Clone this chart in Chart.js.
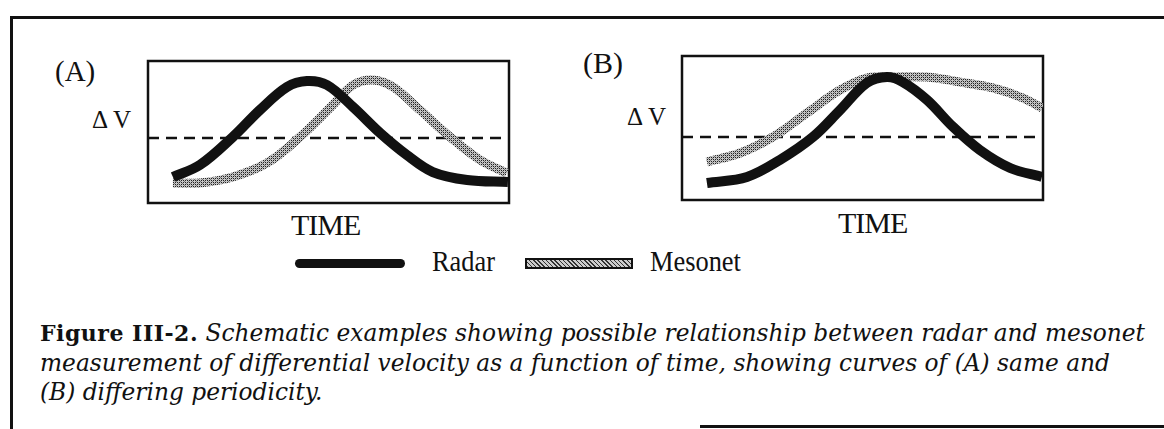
<!DOCTYPE html>
<html>
<head>
<meta charset="utf-8">
<script src="https://cdn.jsdelivr.net/npm/chart.js@4.4.1/dist/chart.umd.min.js"></script>
<style>
  body { margin: 0; background: #fff; width: 1164px; height: 429px; overflow: hidden; position: relative; font-family: "Liberation Serif", serif; color: #111; }
  .abs { position: absolute; white-space: nowrap; }
  #frame { position: absolute; left: 10px; top: 16px; width: 1170px; height: 420px; border-top: 3px solid #111; border-left: 3px solid #111; }
  #frameBottom { position: absolute; left: 700px; top: 425px; width: 470px; border-top: 3px solid #111; }
  canvas { position: absolute; }
  .dv { font-size: 25px; }
  .time { font-size: 30px; letter-spacing: -1px; }
  .leg { font-size: 30px; transform: scaleX(0.88); transform-origin: left; }
  .sym { position: absolute; height: 9px; }
  #caption { position: absolute; left: 40px; top: 318px; font-family: "DejaVu Serif", serif; font-style: italic; font-size: 23.3px; line-height: 29px; white-space: nowrap; }
  #caption b { font-style: normal; font-size: 22px; letter-spacing: 0.5px; }
</style>
</head>
<body>
<div id="frame"></div>
<div id="frameBottom"></div>

<div class="abs" style="left:55px; top:55px; font-size:29px;">(A)</div>
<div class="abs dv" style="left:92px; top:106px;">&Delta;&thinsp;V</div>
<canvas id="chartA" width="371" height="152" style="left:143px; top:56px;"></canvas>
<div class="abs time" style="left:291px; top:208px;">TIME</div>

<div class="abs" style="left:583px; top:46px; font-size:30px;">(B)</div>
<div class="abs dv" style="left:627px; top:103px;">&Delta;&thinsp;V</div>
<canvas id="chartB" width="371" height="154" style="left:677px; top:51px;"></canvas>
<div class="abs time" style="left:838px; top:206px;">TIME</div>

<div class="sym" style="left:295px; top:259px; width:110px; background:#111; border-radius:5px;"></div>
<div class="abs leg" style="left:432px; top:244px;">Radar</div>
<div class="sym" id="mesoSym" style="left:525px; top:258px; width:104px; height:7px; border:2px solid #111;"></div>
<div class="abs leg" style="left:650px; top:244px;">Mesonet</div>

<div id="caption">
  <div><b>Figure III-2.</b> Schematic examples showing possible relationship between radar and mesonet</div>
  <div>measurement of differential velocity as a function of time, showing curves of (A) same and</div>
  <div>(B) differing periodicity.</div>
</div>

<script>
// panel A (time in % of box width, delta V in % of box height)
const radarATime = [6.9, 14.4, 23.5, 31.0, 38.5, 44.0, 49.6, 56.8, 64.3, 71.7, 78.9, 88.4, 99.7];
const radarAValues = [18.3, 26.8, 46.5, 65.5, 81.7, 85.9, 83.1, 67.6, 49.3, 33.8, 21.8, 16.2, 14.8];
const mesonetATime = [6.9, 14.4, 23.5, 33.0, 42.1, 51.2, 56.8, 62.3, 67.9, 75.3, 83.7, 92.0, 99.4];
const mesonetAValues = [14.1, 14.1, 18.3, 28.2, 46.5, 69.0, 83.1, 86.6, 81.7, 65.5, 46.5, 30.3, 21.1];
const thresholdA = 45.8;

// panel B
const radarBTime = [6.9, 18.0, 27.1, 36.3, 43.8, 51.2, 56.8, 61.2, 67.9, 75.1, 82.5, 90.9, 99.7];
const radarBValues = [11.8, 16.0, 27.8, 43.8, 62.5, 81.3, 85.4, 81.9, 69.4, 50.7, 34.7, 22.2, 16.0];
const mesonetBTime = [6.9, 16.1, 25.2, 34.6, 43.8, 51.2, 58.4, 67.9, 77.0, 86.1, 94.5, 99.7];
const mesonetBValues = [26.4, 32.6, 43.8, 60.4, 76.4, 84.7, 85.4, 85.4, 81.9, 77.8, 70.8, 63.9];
const thresholdB = 43.75;

function stipple() {
  const c = document.createElement('canvas');
  c.width = 4; c.height = 4;
  const g = c.getContext('2d');
  g.fillStyle = '#c4c4c4';
  g.fillRect(0, 0, 4, 4);
  g.fillStyle = '#222';
  g.fillRect(0, 0, 1, 1); g.fillRect(2, 2, 1, 1);
  g.fillRect(2, 0, 1, 1); g.fillRect(0, 2, 1, 1);
  g.fillStyle = '#777';
  g.fillRect(1, 1, 1, 1); g.fillRect(3, 3, 1, 1);
  return g.createPattern(c, 'repeat');
}

document.getElementById('mesoSym').style.background =
  'repeating-linear-gradient(45deg, #333 0 1px, #ccc 1px 3px)';

const boxFrame = {
  id: 'boxFrame',
  beforeDatasetsDraw(chart) {
    const a = chart.chartArea, ctx = chart.ctx;
    ctx.save();
    ctx.strokeStyle = '#111';
    ctx.lineWidth = 2.5;
    ctx.strokeRect(a.left, a.top, a.right - a.left, a.bottom - a.top);
    ctx.restore();
  }
};

function pts(xs, ys) {
  return xs.map((x, i) => ({ x: x, y: ys[i] }));
}

function makeChart(id, rx, ry, mx, my, level) {
  const ctx = document.getElementById(id).getContext('2d');
  return new Chart(ctx, {
    type: 'line',
    data: {
      datasets: [{
        label: 'Radar',
        data: pts(rx, ry),
        borderColor: '#111',
        borderWidth: 10,
        tension: 0.35,
        pointRadius: 0
      }, {
        label: 'Mesonet',
        data: pts(mx, my),
        borderColor: stipple(),
        borderWidth: 9,
        tension: 0.35,
        pointRadius: 0
      }, {
        label: 'threshold',
        data: [{ x: 0, y: level }, { x: 100, y: level }],
        borderColor: '#111',
        borderWidth: 2.5,
        borderDash: [11, 7],
        pointRadius: 0
      }]
    },
    options: {
      responsive: false,
      animation: false,
      layout: { padding: 5 },
      plugins: { legend: { display: false }, tooltip: { enabled: false } },
      scales: {
        x: { type: 'linear', min: 0, max: 100, display: false },
        y: { min: 0, max: 100, display: false }
      }
    },
    plugins: [boxFrame]
  });
}

makeChart('chartA', radarATime, radarAValues, mesonetATime, mesonetAValues, thresholdA);
makeChart('chartB', radarBTime, radarBValues, mesonetBTime, mesonetBValues, thresholdB);
</script>
</body>
</html>
